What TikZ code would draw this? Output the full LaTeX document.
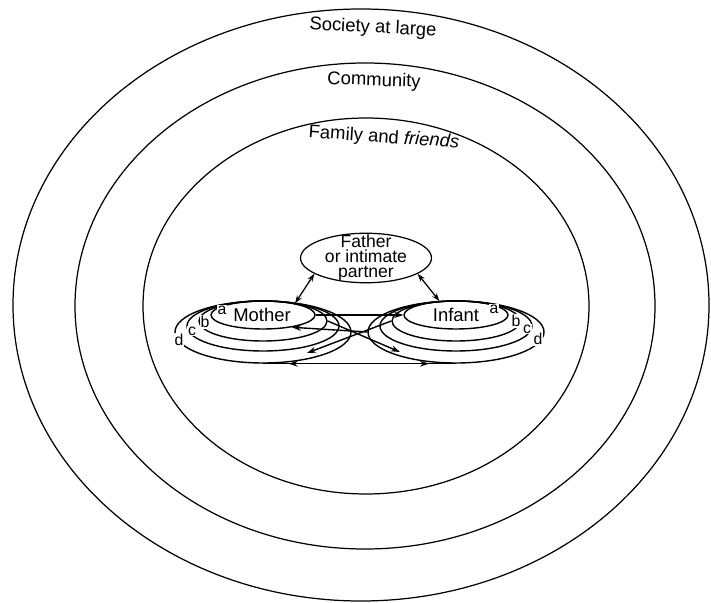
\documentclass[tikz,border=0pt]{standalone}
\usepackage{fontspec}
\setmainfont{Liberation Sans}
\usetikzlibrary{arrows.meta,shapes.geometric,decorations.markings}
\tikzset{
  ring/.style={line width=0.7pt},
  loopring/.style={draw,ellipse,inner sep=0pt,line width=0.8pt},
  tie/.style={line width=0.8pt,-{Stealth[length=1.8mm,width=1.2mm]}},
  both/.style={line width=0.7pt,{Stealth[length=1.6mm,width=1.1mm]}-{Stealth[length=1.6mm,width=1.1mm]}},
  ringlabel/.style={font=\fontsize{10.5}{12}\selectfont},
  who/.style={font=\fontsize{10.5}{12}\selectfont,inner sep=1pt},
  tag/.style={font=\fontsize{9}{10}\selectfont,inner sep=0.4pt,fill=white},
}

\begin{document}
\begin{tikzpicture}[x=0.2mm,y=-0.2mm]
\useasboundingbox (0,0) rectangle (711,603);
% the nested social settings
\draw[ring] (361,305) ellipse [x radius=348,y radius=296];
\draw[ring] (365,306) ellipse [x radius=290,y radius=243];
\draw[ring] (366,306) ellipse [x radius=223,y radius=188];
\node[ringlabel,rotate=-3] (society) at (373,28) {Society at large};
\node[ringlabel,rotate=-2] (community) at (374,81) {Community};
\node[ringlabel,rotate=-4] (family) at (384,138) {Family and \textit{friends}};

% father
\node[draw,ellipse,line width=0.7pt,inner xsep=3pt,inner ysep=-3.2pt,align=center,
      font=\fontsize{10}{8.5}\selectfont] (father) at (366,258) {Father\\or intimate\\partner};

% mother and infant loops a--d
\foreach \n/\r/\h in {a/52/14,b/64/20,c/76/25,d/88/31}{
  \node[loopring,minimum width=\r*0.4mm,minimum height=\h*0.4mm] (m\n) at (263,301+\h) {};
  \node[loopring,minimum width=\r*0.4mm,minimum height=\h*0.4mm] (i\n) at (456,301+\h) {};
}
\node[who] (mother) at (262,315) {Mother};
\node[who] (infant) at (456,315) {Infant};

\foreach \n/\x/\y in {a/222/310,b/205/322,c/192/331,d/179/340}
  \node[tag] (tm\n) at (\x,\y) {\n};
\foreach \n/\x/\y in {a/494/309,b/516/321,c/527/329,d/538/339}
  \node[tag] (ti\n) at (\x,\y) {\n};

% links
\coordinate (mlow) at (307,353);
\coordinate (ilow) at (400,352);
\draw[both] (father.197) -- (ma.20);
\draw[both] (father.-17) -- (ia.140);
\draw[tie] (ma.east) -- (ia.west);
\draw[tie] (id.west) -- (ma.-23);
\draw[tie] (mb.east) -- (ilow);
\draw[tie] (ib.west) -- (mlow);
\draw[line width=0.8pt,postaction=decorate,decoration={markings,
      mark=at position 0.18 with {\arrow{Stealth[length=1.8mm,width=1.2mm,reversed]}},
      mark=at position 0.86 with {\arrow{Stealth[length=1.8mm,width=1.2mm]}}}]
  (md.south) -- (id.south);
\end{tikzpicture}
\end{document}
